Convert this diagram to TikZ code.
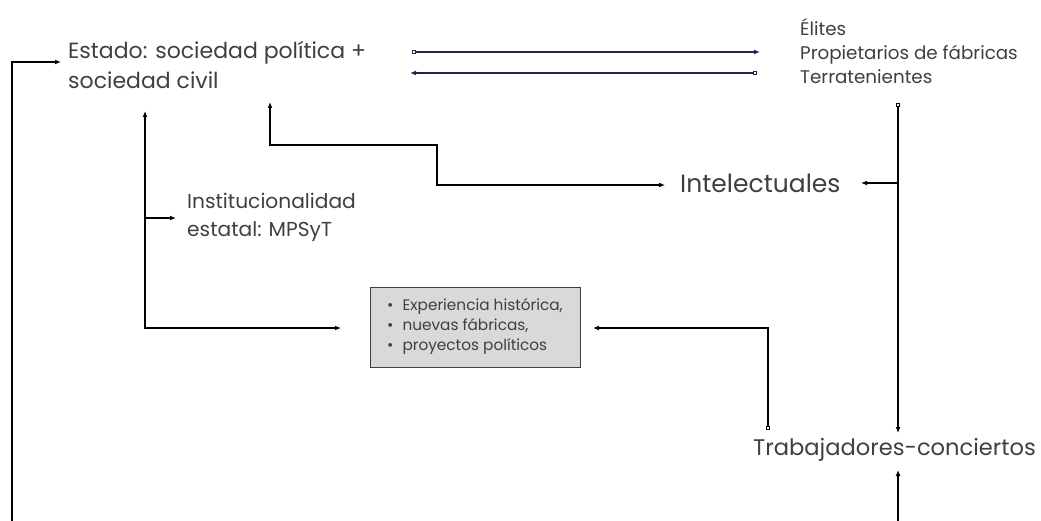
\documentclass[tikz,border=0pt]{standalone}
\usepackage{fontspec}
\setmainfont{Poppins}
\usetikzlibrary{arrows.meta}
\definecolor{tc}{HTML}{3F3F3F}
\definecolor{navy}{HTML}{22234F}
\definecolor{boxfill}{HTML}{D9D9D9}
\definecolor{boxdraw}{HTML}{404040}
\begin{document}
\begin{tikzpicture}[x=1pt,y=-1pt,
  txt/.style={inner sep=0pt, text=tc, align=left, anchor=west},
  conn/.style={line width=1.2pt, draw=black},
  navyconn/.style={line width=1.2pt, draw=navy},
  tip/.style={-{Latex[length=6pt,width=5pt]}},
  bothtip/.style={{Latex[length=6pt,width=5pt]}-{Latex[length=6pt,width=5pt]}},
  sqtip/.style={{Square[open,length=4pt,width=4pt]}-{Latex[length=6pt,width=5pt]}},
  expbox/.style={draw=boxdraw, fill=boxfill, line width=1pt, minimum width=210pt, minimum height=79pt, inner sep=0pt}
]
\useasboundingbox (0,0) rectangle (1041,521);

% texts
\node[txt, font=\fontsize{22}{30}\selectfont] (estado) at (68,65) {Estado: sociedad política +\\sociedad civil};
\node[txt, font=\fontsize{18.3}{24}\selectfont] (elites) at (800,51) {Élites\\Propietarios de fábricas\\Terratenientes};
\node[txt, font=\fontsize{25}{28}\selectfont] (intel) at (680,183) {Intelectuales};
\node[txt, font=\fontsize{20.2}{28}\selectfont] (inst) at (187,217) {Institucionalidad\\estatal: MPSyT};
\node[expbox] (exp) at (475,327.5) {};
\node[txt, font=\fontsize{15.3}{20}\selectfont] (explist) at (387,326) {\textbullet\hspace{9pt}Experiencia histórica,\\\textbullet\hspace{9pt}nuevas fábricas,\\\textbullet\hspace{9pt}proyectos políticos};
\node[txt, font=\fontsize{22.6}{28}\selectfont] (trab) at (753,450) {Trabajadores-conciertos};

% coordinates
\coordinate (lb) at (12,521);
\coordinate (le) at (61,62);
\coordinate (t1s) at (412,52);
\coordinate (t1e) at (760,52);
\coordinate (t2s) at (757,73);
\coordinate (t2e) at (410,73);
\coordinate (rvs) at (898,103);
\coordinate (rve) at (898,433);
\coordinate (rb) at (898,183);
\coordinate (intR) at (861,183);
\coordinate (intL) at (665,185);
\coordinate (upA) at (270,102);
\coordinate (bendA) at (437,145);
\coordinate (upB) at (145,111);
\coordinate (expL) at (341,328);
\coordinate (brB) at (145,218);
\coordinate (instL) at (176,218);
\coordinate (sqC) at (768,430);
\coordinate (expR) at (593,328);
\coordinate (botS) at (898,521);
\coordinate (botE) at (898,470);

% connectors
\draw[conn,tip] (lb) |- (le);
\draw[navyconn,sqtip] (t1s) -- (t1e);
\draw[navyconn,sqtip] (t2s) -- (t2e);
\draw[conn,sqtip] (rvs) -- (rve);
\draw[conn,tip] (rb) -- (intR);
\draw[conn,bothtip] (upA) |- (bendA) |- (intL);
\draw[conn,bothtip] (upB) |- (expL);
\draw[conn,tip] (brB) -- (instL);
\draw[conn,sqtip] (sqC) |- (expR);
\draw[conn,tip] (botS) -- (botE);
\end{tikzpicture}
\end{document}
